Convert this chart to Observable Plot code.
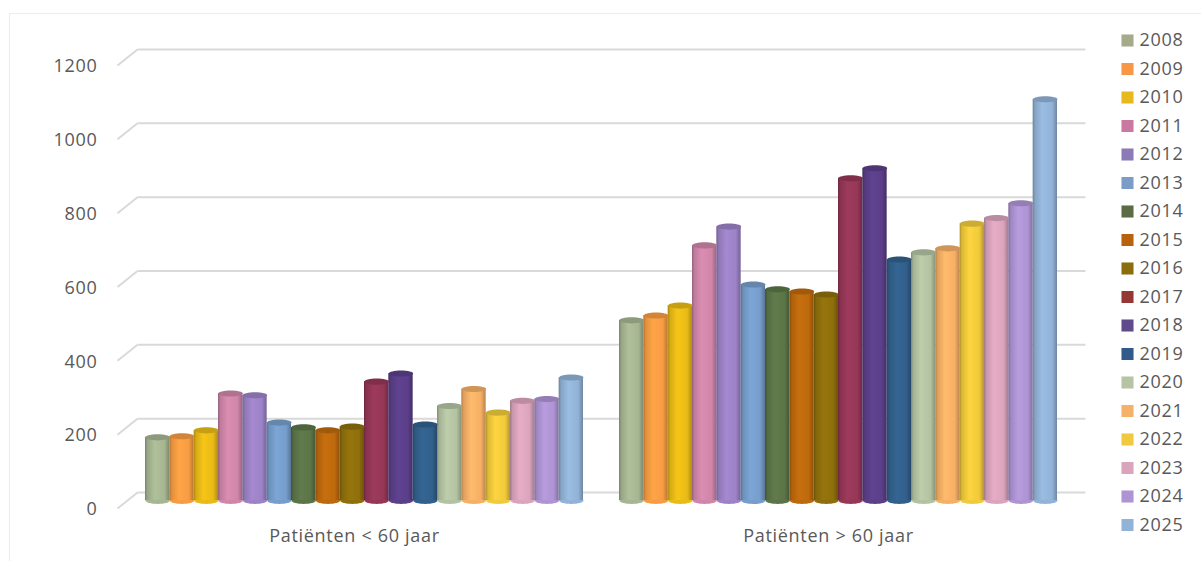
<!DOCTYPE html>
<html>
<head>
<meta charset="utf-8">
<script src="https://cdn.jsdelivr.net/npm/d3@7"></script>
<script src="https://cdn.jsdelivr.net/npm/@observablehq/plot@0.6"></script>
<style>
html,body{margin:0;padding:0;background:#fff;}
#wrap{position:relative;width:1201px;height:561px;overflow:hidden;font-family:"Open Sans",sans-serif;}
#frame{position:absolute;left:9px;top:13px;right:0;bottom:0;border-left:1px solid #ececec;border-top:1px solid #ececec;}
#chart,#legend{position:absolute;top:0;}
#chart{left:0;}
#legend{left:1100px;}
svg{background:transparent !important;display:block;}
.spaced text{letter-spacing:0.7px;}
</style>
</head>
<body>
<div id="wrap"><div id="frame"></div><div id="chart"></div><div id="legend"></div></div>
<script>
const years = [2008,2009,2010,2011,2012,2013,2014,2015,2016,2017,2018,2019,2020,2021,2022,2023,2024,2025];
const categories = ["Patiënten < 60 jaar","Patiënten > 60 jaar"];
const under60 = [171,174,190,290,285,211,198,190,200,322,344,206,256,302,238,270,275,333];
const over60  = [488,501,528,691,742,585,572,566,558,873,900,653,672,683,750,765,805,1087];
const colors = ["#a6b692","#f79c43","#e9bb16","#d086a9","#9c82c6","#769dcb","#5c7548","#bd690d","#8f6f0c",
                "#963757","#5b3f89","#32608c","#b3c3a2","#f5b066","#f1ca3c","#dba4bd","#ae94d3","#92b3d7"];
const legendColors = ["#a5ab8a","#f79646","#e6b91e","#c9799f","#8c7ab8","#7c9cc8","#5a6b45","#b8620e","#8a6d0f",
                      "#953735","#5f4a8b","#31598a","#b7c4a4","#f5b06a","#f0c93e","#dba4bd","#ae94d3","#92b3d7"];
const yTicks = [0,200,400,600,800,1000,1200];
const depthY = 21.7;      // half wall depth, value units
const depthX = 0.0211;    // half wall depth, category units
const pad = 0.74;         // gap each side of a group, in bar widths
const slots = years.length + 2 * pad;

const bars = [under60, over60].flatMap((vals, c) => vals.map((v, i) => ({
  c, i, v, year: years[i],
  x1: c + (pad + i) / slots,
  x2: c + (pad + i + 1) / slots,
  xm: c + (pad + i + 0.5) / slots
})));

const ellipse = (k) => ({
  draw(ctx, size) {
    const rx = Math.sqrt(size / Math.PI), ry = rx * k, m = 0.5523;
    ctx.moveTo(-rx, 0);
    ctx.bezierCurveTo(-rx, -ry * m, -rx * m, -ry, 0, -ry);
    ctx.bezierCurveTo(rx * m, -ry, rx, -ry * m, rx, 0);
    ctx.bezierCurveTo(rx, ry * m, rx * m, ry, 0, ry);
    ctx.bezierCurveTo(-rx * m, ry, -rx, ry * m, -rx, 0);
    ctx.closePath();
  }
});

const defsMark = () => {
  const defs = d3.create("svg:defs");
  colors.forEach((col, i) => {
    const base = d3.color(col);
    const g = defs.append("linearGradient").attr("id", "cyl" + i);
    [[0, base.darker(0.9)], [0.1, base.darker(0.25)], [0.4, base.brighter(0.15)], [0.8, base], [1, base.darker(0.8)]]
      .forEach(([o, c]) => g.append("stop").attr("offset", o).attr("stop-color", c + ""));
  });
  return defs.node();
};

const gridColor = "#d9d9d9";
const chart = Plot.plot({
  width: 1201, height: 561, margin: 0,
  style: {background: "transparent", fontFamily: '"Open Sans",sans-serif'},
  x: {type: "linear", domain: [0, 2], range: [127, 1075], axis: null},
  y: {type: "linear", domain: [0, 1200], range: [500, 57], axis: null},
  marks: [
    defsMark,
    Plot.link(yTicks, {x1: depthX, x2: 2 + depthX, y1: d => d + depthY, y2: d => d + depthY, stroke: gridColor, strokeWidth: 2}),
    Plot.link(yTicks, {x1: -depthX, x2: depthX, y1: d => d - depthY, y2: d => d + depthY, stroke: gridColor, strokeWidth: 2}),
    Plot.dot(bars, {x: "xm", y: () => 0, r: 12.2, symbol: ellipse(0.28), fill: {value: d => colors[d.i], scale: null}, stroke: "none"}),
    Plot.rect(bars, {x1: "x1", x2: "x2", y1: () => 0, y2: "v", fill: {value: d => `url(#cyl${d.i})`, scale: null}}),
    Plot.dot(bars, {x: "xm", y: "v", r: 12.2, symbol: ellipse(0.25), fill: {value: d => d3.color(colors[d.i]).darker(0.45) + "", scale: null}, stroke: "none"}),
    Plot.text(yTicks, {x: -depthX, y: d => d - depthY, text: d => String(d), textAnchor: "end", dx: -20, dy: 1, fontSize: 18, fill: "#595959", className: "spaced"}),
    Plot.text(categories, {x: (d, i) => i + 0.5 - depthX, y: () => -97, text: d => d, fontSize: 18, fill: "#595959", className: "spaced"})
  ]
});
document.getElementById("chart").append(chart);

const legend = Plot.plot({
  width: 101, height: 561, margin: 0,
  style: {background: "transparent", fontFamily: '"Open Sans",sans-serif'},
  x: {type: "linear", domain: [0, 1], range: [27, 28], axis: null},
  y: {type: "point", domain: years, range: [40, 524.5], padding: 0, round: false, axis: null},
  marks: [
    Plot.dot(years, {x: () => 0, y: d => d, r: 6.8, symbol: "square", fill: {value: (d, i) => legendColors[i], scale: null}, stroke: "none"}),
    Plot.text(years, {x: () => 0, y: d => d, text: d => String(d), textAnchor: "start", dx: 12, fontSize: 18, fill: "#595959", className: "spaced"})
  ]
});
document.getElementById("legend").append(legend);
</script>
</body>
</html>
